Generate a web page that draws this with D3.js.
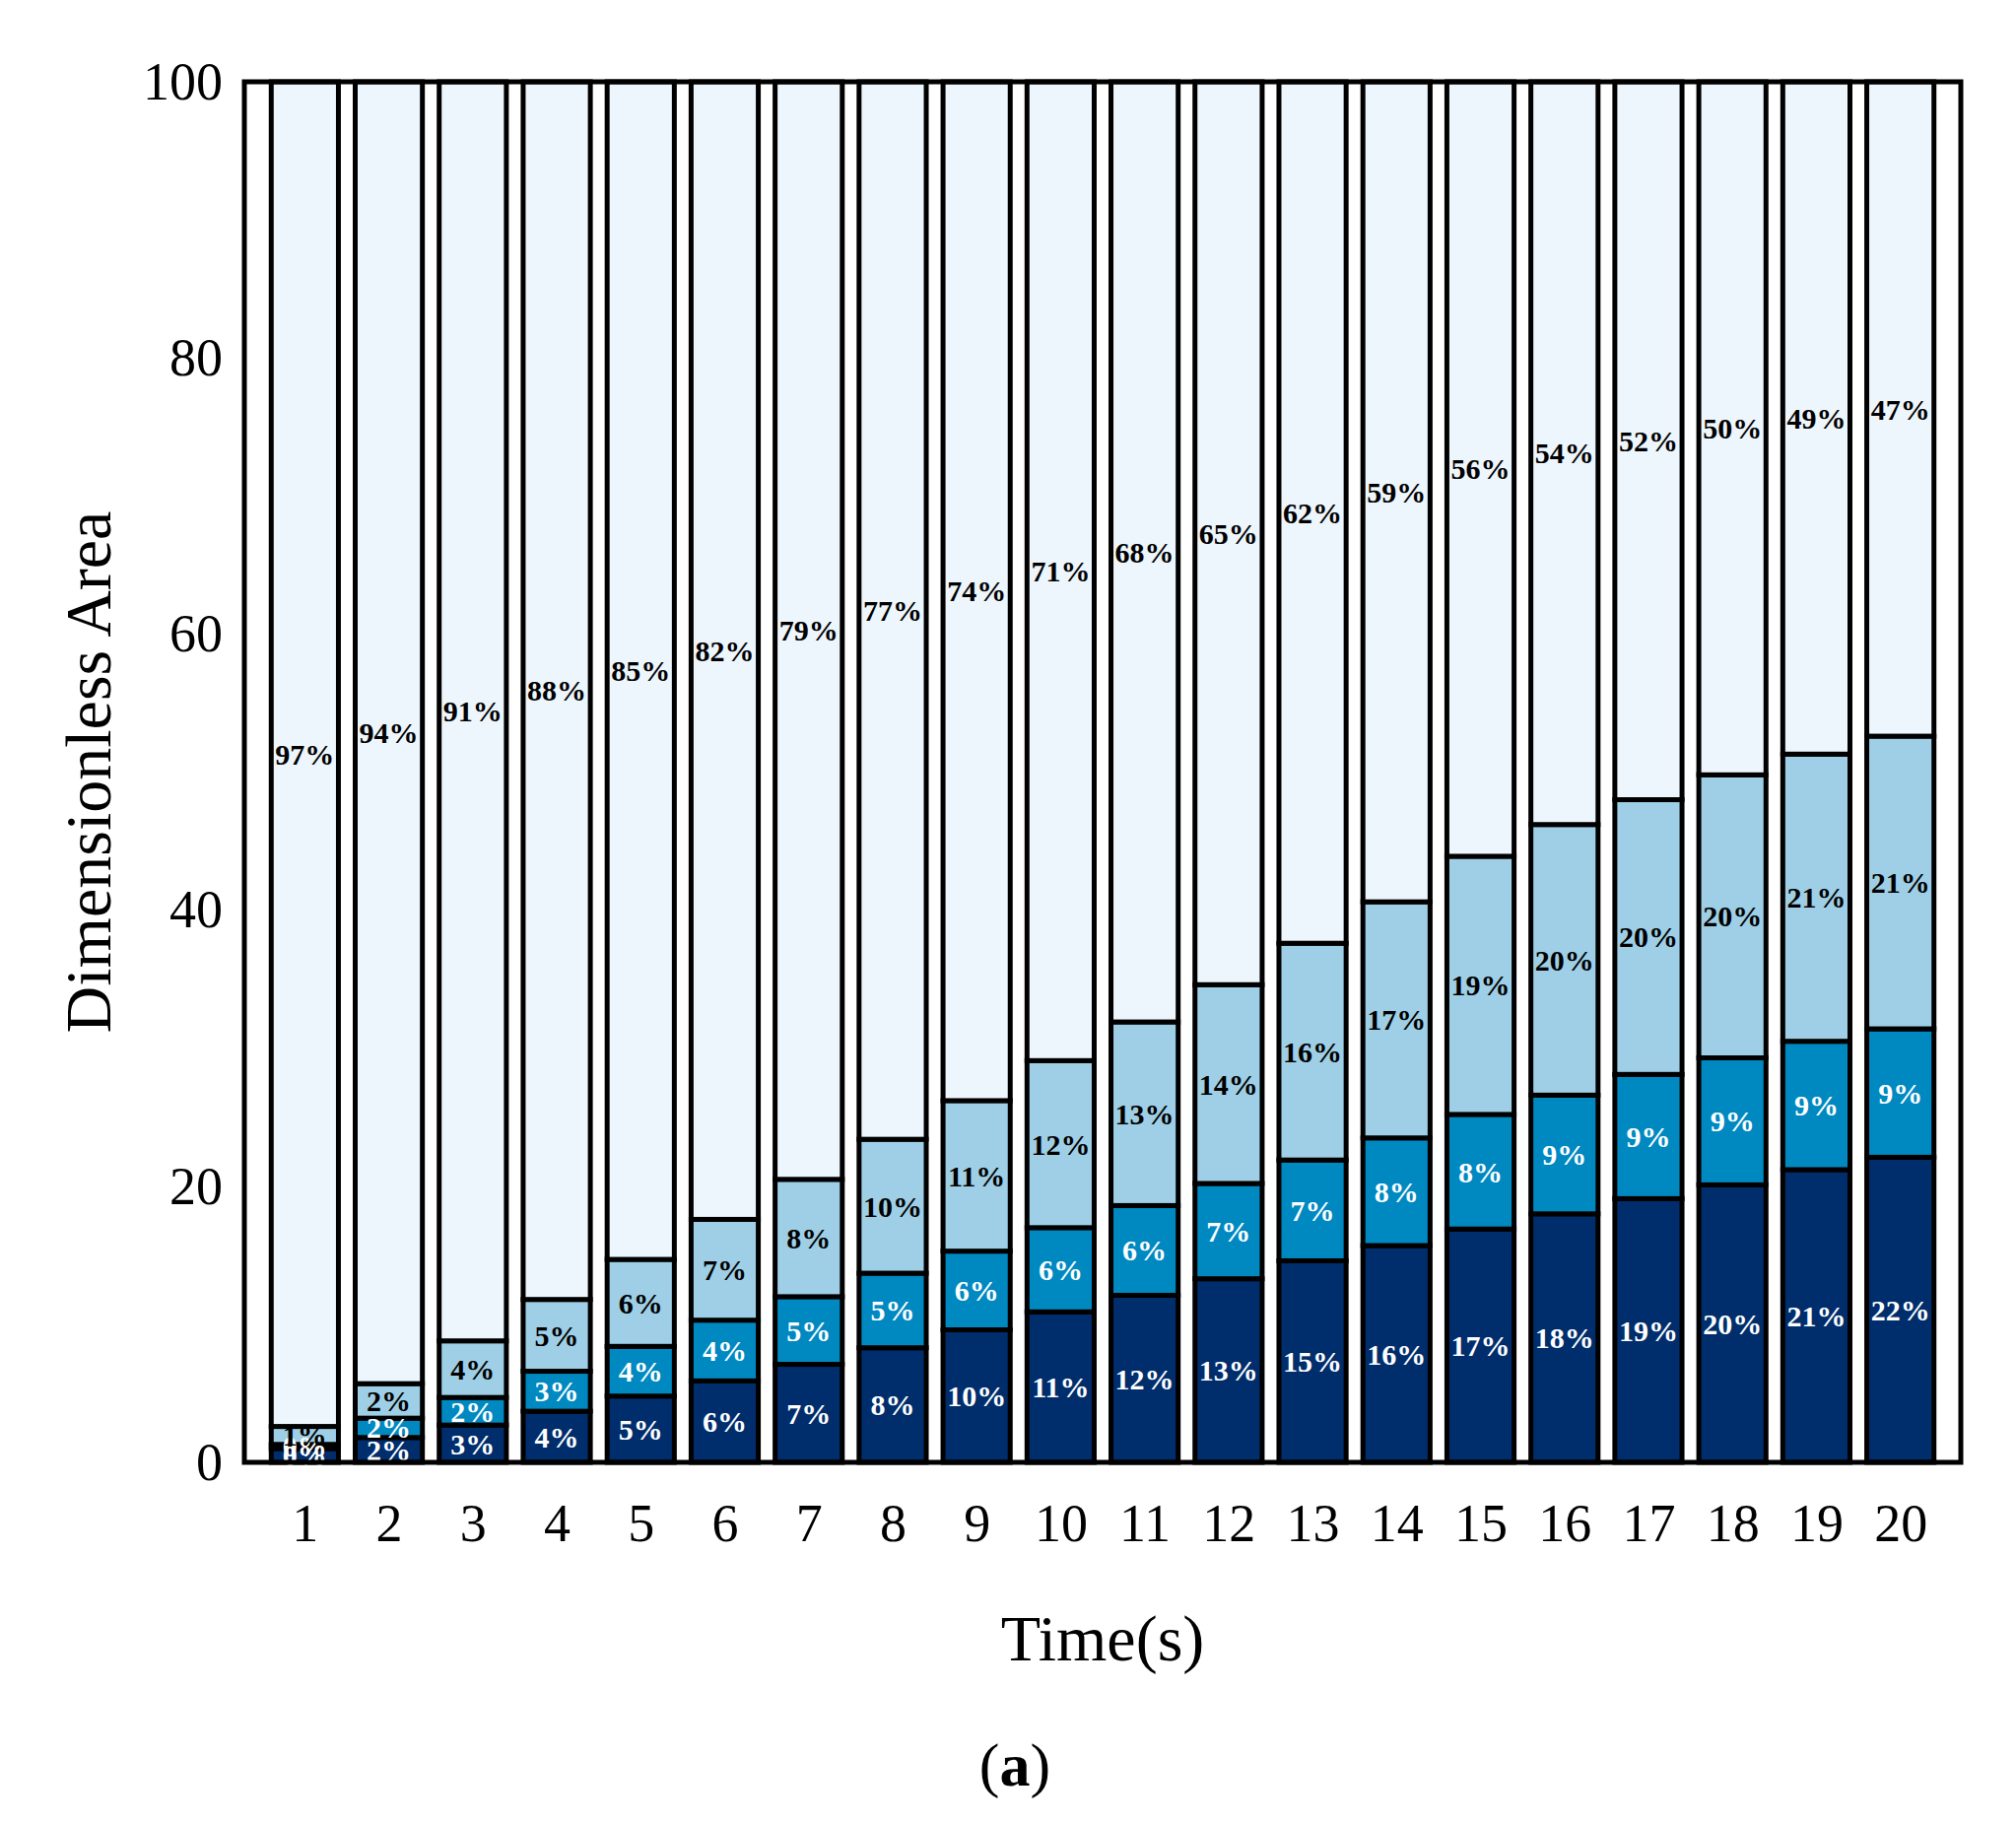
<!DOCTYPE html>
<html>
<head>
<meta charset="utf-8">
<script src="https://cdn.jsdelivr.net/npm/d3@7"></script>
<style>
  body { margin: 0; background: #fff; }
</style>
</head>
<body>
<div id="chart"></div>
<script>
const times = d3.range(1, 21)

// segment sizes (dimensionless area), bottom to top
const darkVals  = [1.0, 1.8, 2.7, 3.7, 4.8, 5.9, 7.1, 8.3, 9.6, 10.9, 12.1, 13.3, 14.6, 15.7, 16.9, 18.0, 19.1, 20.1, 21.2, 22.1]
const midVals   = [0.3, 1.4, 2.0, 2.9, 3.6, 4.4, 4.9, 5.4, 5.7, 6.1, 6.5, 6.9, 7.3, 7.8, 8.3, 8.6, 9.0, 9.2, 9.3, 9.3]
const lightVals = [1.3, 2.5, 4.1, 5.2, 6.3, 7.3, 8.5, 9.7, 10.9, 12.1, 13.3, 14.4, 15.7, 17.1, 18.7, 19.6, 19.9, 20.5, 20.8, 21.2]

const darkLabels  = ['0%','2%','3%','4%','5%','6%','7%','8%','10%','11%','12%','13%','15%','16%','17%','18%','19%','20%','21%','22%']
const midLabels   = ['0%','2%','2%','3%','4%','4%','5%','5%','6%','6%','6%','7%','7%','8%','8%','9%','9%','9%','9%','9%']
const lightLabels = ['1%','2%','4%','5%','6%','7%','8%','10%','11%','12%','13%','14%','16%','17%','19%','20%','20%','20%','21%','21%']
const restLabels  = ['97%','94%','91%','88%','85%','82%','79%','77%','74%','71%','68%','65%','62%','59%','56%','54%','52%','50%','49%','47%']

const yTicks = [0, 20, 40, 60, 80, 100]

const colors = ['#002d6b', '#0088c1', '#9ecfe6', '#eef6fd']
const labelColors = ['#fff', '#fff', '#000', '#000']
const font = '"Liberation Serif", "Times New Roman", Tinos, serif'

const width = 2046
const height = 1850
const margin = {left: 248, right: 1990, top: 83, bottom: 1484}

const x = d3.scaleLinear().domain([0.28, 20.72]).range([margin.left, margin.right])
const y = d3.scaleLinear().domain([0, 100]).range([margin.bottom, margin.top])
const barW = x(0.8) - x(0)

const svg = d3.select('#chart').append('svg')
  .attr('width', width).attr('height', height)
  .attr('font-family', font)

const rows = times.map((t, i) => {
  const segs = [darkVals[i], midVals[i], lightVals[i]]
  const total = d3.sum(segs)
  segs.push(100 - total)
  const labels = [darkLabels[i], midLabels[i], lightLabels[i], restLabels[i]]
  let acc = 0
  return segs.map((v, k) => {
    const s = {t, k, y0: acc, y1: acc + v, label: labels[k]}
    acc += v
    return s
  })
}).flat()

svg.append('g').selectAll('rect').data(rows).join('rect')
  .attr('x', d => x(d.t) - barW / 2)
  .attr('width', barW)
  .attr('y', d => y(d.y1))
  .attr('height', d => y(d.y0) - y(d.y1))
  .attr('fill', d => colors[d.k])
  .attr('stroke', '#000')
  .attr('stroke-width', 5)

svg.append('g').selectAll('text').data(rows).join('text')
  .attr('x', d => x(d.t))
  .attr('y', d => y((d.y0 + d.y1) / 2))
  .attr('dy', '0.35em')
  .attr('text-anchor', 'middle')
  .attr('font-family', font)
  .attr('font-weight', 'bold')
  .attr('font-size', 30)
  .attr('fill', d => labelColors[d.k])
  .text(d => d.label)

// frame
svg.append('rect')
  .attr('x', margin.left).attr('y', margin.top)
  .attr('width', margin.right - margin.left)
  .attr('height', margin.bottom - margin.top)
  .attr('fill', 'none').attr('stroke', '#000').attr('stroke-width', 5)

const yAxis = svg.append('g')
  .attr('transform', `translate(${margin.left},0)`)
  .call(d3.axisLeft(y).tickValues(yTicks).tickSize(0).tickPadding(22))
yAxis.attr('font-family', font)
yAxis.select('.domain').remove()
yAxis.selectAll('text').attr('font-size', 54).attr('fill', '#000')

const xAxis = svg.append('g')
  .attr('transform', `translate(0,${margin.bottom})`)
  .call(d3.axisBottom(x).tickValues(times).tickSize(0).tickPadding(42).tickFormat(d3.format('d')))
xAxis.attr('font-family', font)
xAxis.select('.domain').remove()
xAxis.selectAll('text').attr('font-size', 54).attr('fill', '#000')

svg.append('text')
  .attr('x', (margin.left + margin.right) / 2).attr('y', 1685)
  .attr('text-anchor', 'middle').attr('font-size', 66)
  .text('Time(s)')

svg.append('text')
  .attr('transform', `translate(112,${(margin.top + margin.bottom) / 2}) rotate(-90)`)
  .attr('text-anchor', 'middle').attr('font-size', 66)
  .text('Dimensionless Area')

const cap = svg.append('text')
  .attr('x', 1030).attr('y', 1812)
  .attr('text-anchor', 'middle').attr('font-size', 62)
cap.append('tspan').text('(')
cap.append('tspan').attr('font-weight', 'bold').text('a')
cap.append('tspan').text(')')
</script>
</body>
</html>
